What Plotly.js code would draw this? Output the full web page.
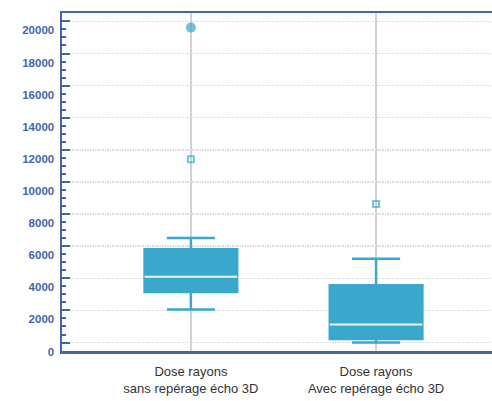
<!DOCTYPE html>
<html>
<head>
<meta charset="utf-8">
<script src="https://cdn.plot.ly/plotly-3.0.1.min.js"></script>
<style>html,body{margin:0;padding:0;background:#fff;}#chart{width:492px;height:401px;}</style>
</head>
<body>
<div id="chart"></div>
<script>
// Categories
const categories = ["Dose rayons<br>sans repérage écho 3D", "Dose rayons<br>Avec repérage écho 3D"];
// Box statistics
const lowerFence = [2650, 590];
const q1 = [3730, 810];
const median = [4690, 1710];
const q3 = [6400, 4150];
const upperFence = [7100, 5810];
// Outliers
const outlierCat = [categories[0], categories[0], categories[1]];
const outlierVal = [20200, 12000, 9210];
const outlierSymbol = ["circle", "square-open", "square-open"];
// Y tick labels
const yTickLabels = [0, 2000, 4000, 6000, 8000, 10000, 12000, 14000, 16000, 18000, 20000];

const TEAL = "#3aa8cc";
const AXIS_BLUE = "#4166ad";
const GRID_OFFSET = 587.5; // gridlines/ticks sit slightly above their labels in the original

const boxTrace = {
  type: "box",
  x: categories,
  q1: q1, median: median, q3: q3,
  lowerfence: lowerFence, upperfence: upperFence,
  boxpoints: false,
  fillcolor: TEAL,
  line: {color: TEAL, width: 2.5},
  width: 0.5,
  whiskerwidth: 0.52,
  hoverinfo: "skip",
  showlegend: false
};
// White median stroke drawn over the box
const medianTrace = {
  type: "box",
  x: categories,
  q1: median, median: median, q3: median,
  lowerfence: median, upperfence: median,
  boxpoints: false,
  fillcolor: "rgba(0,0,0,0)",
  line: {color: "#e8f5fa", width: 2},
  width: 0.5,
  whiskerwidth: 0,
  hoverinfo: "skip",
  showlegend: false
};
const outlierTrace = {
  type: "scatter",
  mode: "markers",
  x: outlierCat,
  y: outlierVal,
  marker: {color: TEAL, size: [8, 6, 6], symbol: outlierSymbol, line: {color: TEAL, width: 2}},
  hoverinfo: "skip",
  showlegend: false
};

const layout = {
  width: 492, height: 401,
  margin: {l: 62, r: 0, t: 13, b: 50},
  paper_bgcolor: "#fff", plot_bgcolor: "#fff",
  showlegend: false,
  xaxis: {
    type: "category",
    range: [-0.696, 1.626],
    showgrid: true, gridcolor: "#d2d2d6", gridwidth: 1.5,
    showline: true, linecolor: AXIS_BLUE, linewidth: 2.5, mirror: true,
    ticks: "",
    ticklabelstandoff: 7,
    tickfont: {family: "Liberation Sans, Arial, sans-serif", size: 13, color: "#333"},
    fixedrange: true
  },
  yaxis: {
    range: [60, 21110],
    autorange: false,
    tickmode: "array",
    tickvals: yTickLabels.map(v => v + GRID_OFFSET),
    ticktext: yTickLabels.map(String),
    ticklabelshift: 9,
    ticklabelstandoff: 3,
    ticks: "inside", ticklen: 8, tickwidth: 2, tickcolor: AXIS_BLUE,
    minor: {tick0: GRID_OFFSET - 500, dtick: 500, ticks: "inside", ticklen: 4, tickwidth: 2, tickcolor: AXIS_BLUE, showgrid: false},
    showgrid: true, gridcolor: "#dadada", gridwidth: 1.5, griddash: "1.5px,1px",
    zeroline: false,
    showline: true, linecolor: AXIS_BLUE, linewidth: 2.5, mirror: false,
    tickfont: {family: "Liberation Sans, Arial, sans-serif", size: 11.5, color: AXIS_BLUE, weight: 700},
    fixedrange: true
  }
};

Plotly.newPlot("chart", [boxTrace, medianTrace, outlierTrace], layout, {displayModeBar: false, staticPlot: true});
</script>
</body>
</html>
